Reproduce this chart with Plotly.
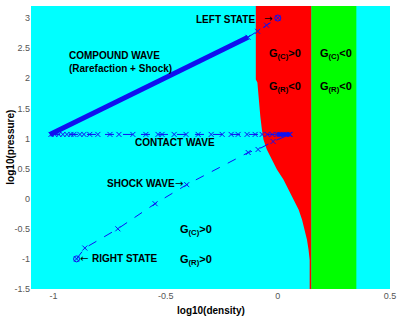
import plotly.graph_objects as go

# ---- data (log10 density, log10 pressure) ----
red_x = [-0.098, -0.098, -0.091, -0.086, -0.078, -0.071, -0.064, -0.049, -0.026, -0.004,
         0.025, 0.048, 0.070, 0.093, 0.108, 0.119, 0.130, 0.137, 0.142, 0.142, 0.15, 0.15]
red_y = [3.2, 1.98, 1.93, 1.65, 1.37, 1.15, 0.983, 0.817, 0.65, 0.483,
         0.317, 0.15, -0.017, -0.183, -0.35, -0.517, -0.683, -0.85, -1.017, -1.5, -1.5, 3.2]
green_x = [0.15, 0.35, 0.35, 0.15]
green_y = [-1.5, -1.5, 3.2, 3.2]

compound_thick_x = [-1.016, -0.133]
compound_thick_y = [1.067, 2.68]
compound_thin_x = [-0.133, -0.09, -0.05, 0.0]
compound_thin_y = [2.68, 2.78, 2.88, 3.0]

contact_x = [-1.011, -0.994, -0.976, -0.958, -0.940, -0.922, -0.909, -0.882, -0.864, -0.838,
             -0.802, -0.748, -0.708, -0.646, -0.588, -0.534, -0.516, -0.462, -0.409, -0.355,
             -0.297, -0.248, -0.208, -0.177, -0.137, -0.101, -0.070, -0.047, -0.025, -0.003,
             0.010, 0.024, 0.037, 0.051]
contact_y = [1.067] * len(contact_x)
blob_x = [-0.005, 0.055]
blob_y = [1.067, 1.067]

shock_x = [-0.897, -0.860, -0.713, -0.547, -0.406, -0.132, -0.088, -0.021, 0.055]
shock_y = [-1.0, -0.82, -0.5, -0.083, 0.233, 0.767, 0.817, 0.95, 1.067]

state_x = [0.0, -0.897]
state_y = [3.0, -1.0]

x_ticks = [-1, -0.5, 0, 0.5]
x_tick_text = ["-1", "-0.5", "0", "0.5"]
y_ticks = [-1.5, -1, -0.5, 0, 0.5, 1, 1.5, 2, 2.5, 3]
y_tick_text = ["-1.5", "-1", "-0.5", "0", "0.5", "1", "1.5", "2", "2.5", "3"]

BLUE = "#1010f0"
FONT = "Liberation Sans"

fig = go.Figure()
fig.add_trace(go.Scatter(x=red_x, y=red_y, fill="toself", fillcolor="#ff0000",
                         mode="lines", line=dict(width=0), hoverinfo="skip"))
fig.add_trace(go.Scatter(x=green_x, y=green_y, fill="toself", fillcolor="#00ff00",
                         mode="lines", line=dict(width=0), hoverinfo="skip"))
fig.add_trace(go.Scatter(x=compound_thick_x, y=compound_thick_y, mode="lines",
                         line=dict(color=BLUE, width=5)))
mk = dict(symbol="x-thin", size=5, color=BLUE, line=dict(color=BLUE, width=1))
fig.add_trace(go.Scatter(x=compound_thin_x, y=compound_thin_y, mode="lines+markers",
                         line=dict(color=BLUE, width=1, dash="dash"), marker=mk))
fig.add_trace(go.Scatter(x=contact_x, y=contact_y, mode="lines+markers",
                         line=dict(color=BLUE, width=1, dash="dash"), marker=mk))
fig.add_trace(go.Scatter(x=blob_x, y=blob_y, mode="lines",
                         line=dict(color=BLUE, width=4)))
fig.add_trace(go.Scatter(x=shock_x, y=shock_y, mode="lines+markers",
                         line=dict(color=BLUE, width=1, dash="dash"), marker=mk))
fig.add_trace(go.Scatter(x=state_x, y=state_y, mode="markers",
                         marker=dict(symbol="circle-open", size=6, color=BLUE,
                                     line=dict(color=BLUE, width=1))))

def txt(x, y, s, xanchor="left", size=10, bold=True, family=FONT):
    fig.add_annotation(x=x, y=y, text=("<b>%s</b>" % s) if bold else s, showarrow=False,
                       xanchor=xanchor, yanchor="middle",
                       font=dict(family=family, size=size, color="black"))

txt(-0.092, 2.98, "LEFT STATE", xanchor="right")
txt(-0.043, 2.985, "\u2192", xanchor="center", bold=False, family="DejaVu Sans")
txt(-0.94, 2.38, "COMPOUND WAVE")
txt(-0.94, 2.16, "(Rarefaction + Shock)")
txt(-0.645, 0.93, "CONTACT WAVE")
txt(-0.77, 0.25, "SHOCK WAVE")
txt(-0.44, 0.255, "\u2192", xanchor="center", bold=False, family="DejaVu Sans")
txt(-0.864, -0.995, "\u2190", xanchor="center", bold=False, family="DejaVu Sans")
txt(-0.835, -1.0, "RIGHT STATE")
txt(-0.05, 2.40, "G<sub>(C)</sub>>0", size=11)
txt(-0.05, 1.86, "G<sub>(R)</sub><0", size=11)
txt(0.178, 2.40, "G<sub>(C)</sub><0", size=11)
txt(0.178, 1.86, "G<sub>(R)</sub><0", size=11)
txt(-0.447, -0.52, "G<sub>(C)</sub>>0", size=11)
txt(-0.447, -1.02, "G<sub>(R)</sub>>0", size=11)

# axis titles as paper-anchored annotations
fig.add_annotation(xref="paper", yref="paper", x=0.5, y=-0.048, yanchor="top",
                   text="<b>log10(density)</b>", showarrow=False,
                   font=dict(family=FONT, size=10, color="black"))
fig.add_annotation(xref="paper", yref="paper", x=-0.058, y=0.5, xanchor="center",
                   textangle=-90, text="<b>log10(pressure)</b>", showarrow=False,
                   font=dict(family=FONT, size=10, color="black"))

fig.update_layout(
    width=399, height=318,
    margin=dict(l=31, r=9, t=6, b=29, autoexpand=False),
    paper_bgcolor="white", plot_bgcolor="#00ffff",
    showlegend=False,
    xaxis=dict(range=[-1.1, 0.5], tickvals=x_ticks, ticktext=x_tick_text,
               showgrid=False, zeroline=False, showline=False, ticks="", automargin=False,
               tickfont=dict(family=FONT, size=9, color="#555555")),
    yaxis=dict(range=[-1.5, 3.2], tickvals=y_ticks, ticktext=y_tick_text,
               showgrid=False, zeroline=False, showline=False, ticks="", automargin=False,
               tickfont=dict(family=FONT, size=9, color="#555555")),
)

fig.write_html("out.html", config={"displayModeBar": False},
               post_script="document.body.style.margin='0';document.body.style.overflow='hidden';")
